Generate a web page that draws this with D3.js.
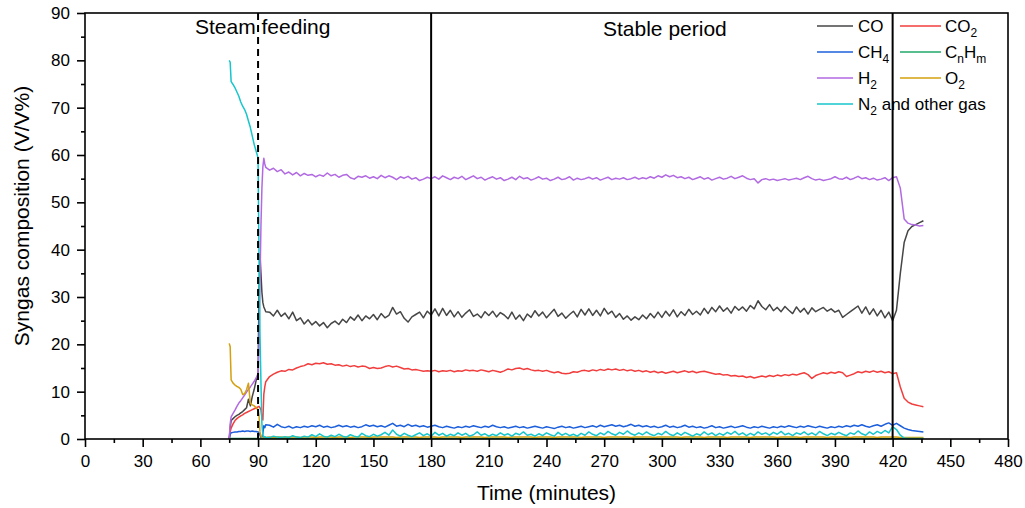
<!DOCTYPE html>
<html><head><meta charset="utf-8">
<script src="https://cdn.jsdelivr.net/npm/d3@7"></script>
<style>body{margin:0;background:#fff} svg{display:block} text{font-family:"Liberation Sans",Arial,sans-serif;fill:#000}</style>
</head><body><svg id="chart" width="1025" height="508"></svg>
<script>
// time (minutes)
const times = [75,75.5,76,77,78,79,80,81,82,83,84,85,86,87,88,89,90,90.5,91,91.5,92,92.5,93,93.5,94,
96,98,100,102,104,106,108,110,112,114,
116,118,120,122,124,126,128,130,132,134,
136,138,140,142,144,146,148,150,152,154,
156,158,160,162,164,166,168,170,172,174,
176,178,180,182,184,186,188,190,192,194,
196,198,200,202,204,206,208,210,212,214,
216,218,220,222,224,226,228,230,232,234,
236,238,240,242,244,246,248,250,252,254,
256,258,260,262,264,266,268,270,272,274,
276,278,280,282,284,286,288,290,292,294,
296,298,300,302,304,306,308,310,312,314,
316,318,320,322,324,326,328,330,332,334,
336,338,340,342,344,346,348,350,352,354,
356,358,360,362,364,366,368,370,372,374,
376,378,380,382,384,386,388,390,392,394,
396,398,400,402,404,406,408,410,412,414,
416,418,420,422,424,426,428,430,432,434,
436];

const coVals = [0,2.4,3.9,4.3,4.7,5.0,5.2,5.5,5.8,6.2,6.6,8.4,7.0,9.0,10.5,12.4,13.6,31,39,35,31,28.8,27.9,27.4,26.9,
26.8,26.0,27.2,25.9,26.6,25.4,26.8,25.0,25.6,24.3,
25.2,24.1,24.8,23.9,24.6,23.5,24.4,24.9,24.2,25.3,
24.6,25.8,25.1,26.2,25.0,26.0,25.4,26.3,25.2,26.5,
25.6,26.1,27.8,26.4,26.9,25.5,24.7,25.8,26.3,26.8,
25.6,27.0,26.2,27.5,26.0,27.6,26.1,27.2,25.8,26.9,
25.7,26.6,27.3,25.9,26.4,25.6,26.9,26.1,27.0,25.8,
26.7,26.2,25.4,26.8,25.3,26.2,25.0,26.4,25.7,27.1,
26.0,26.8,25.6,26.5,27.4,25.9,26.6,25.5,26.3,27.0,
25.8,27.4,26.2,27.5,26.1,27.2,26.0,27.6,26.4,27.0,
25.7,26.5,25.3,26.0,25.1,25.8,25.2,26.2,25.4,26.5,
25.6,26.8,25.7,27.0,26.0,27.3,25.8,26.9,26.1,27.4,
26.3,27.0,26.2,27.6,26.5,27.8,26.9,28.1,27.0,27.7,
26.6,28.0,27.2,27.9,27.0,28.2,27.5,29.2,28.0,27.3,
28.4,27.1,27.8,26.9,28.0,27.2,26.5,27.9,26.8,27.6,
26.4,27.7,26.9,27.4,27.8,27.0,27.5,26.8,27.2,25.7,
26.3,26.9,27.5,28.1,26.6,27.9,26.3,27.5,26.0,27.2,
25.6,26.8,25.0,27.2,35.0,41.5,44.0,44.9,45.3,45.7,
46.1];

const co2Vals = [0,1.5,2.3,3.2,3.9,4.3,4.6,4.9,5.1,5.4,5.6,5.8,6.0,6.2,6.4,6.6,6.8,6.9,6.6,6.2,4.5,4.0,9.5,11.0,12.1,
13.2,13.7,14.1,14.4,14.3,14.7,14.6,15.0,15.3,15.5,
15.9,15.7,16.0,15.9,16.1,15.8,15.9,15.6,15.7,15.4,
15.6,15.3,15.5,15.2,15.4,15.3,14.9,15.1,14.9,15.0,
15.3,15.5,15.2,15.4,15.1,14.8,14.9,14.6,14.7,14.5,
14.3,14.4,14.3,14.5,14.2,14.4,14.3,14.5,14.2,14.4,
14.3,14.6,14.4,14.5,14.3,14.6,14.4,14.2,14.5,14.3,
14.1,14.4,14.8,14.6,14.9,15.0,14.7,14.9,14.6,14.4,
14.5,14.3,14.5,14.2,14.0,14.2,13.9,13.8,13.9,14.2,
14.1,14.4,14.5,14.3,14.6,14.4,14.7,14.5,14.8,14.6,
14.8,14.5,14.7,14.4,14.6,14.3,14.5,14.2,14.4,14.1,
14.3,14.0,14.2,13.9,14.1,14.3,14.0,14.2,14.4,14.1,
14.3,14.0,14.2,14.3,14.1,13.9,13.7,13.8,13.5,13.6,
13.3,13.4,13.2,13.3,13.0,13.2,12.9,13.1,13.3,13.1,
13.4,13.2,13.5,13.3,13.6,13.4,13.7,13.5,13.8,14.0,
13.6,12.8,13.4,13.7,14.0,13.8,14.1,13.9,14.2,14.0,
13.2,13.5,13.8,14.2,14.0,14.3,14.1,14.4,14.1,14.3,
14.0,14.2,13.8,14.0,11.0,8.6,7.8,7.4,7.2,7.0,
6.8];

const ch4Vals = [0,1.0,1.3,1.4,1.5,1.5,1.6,1.6,1.7,1.6,1.7,1.7,1.6,1.7,1.6,1.6,1.5,1.3,0.8,0.3,0.2,1.2,2.8,2.4,3.0,
2.9,2.5,3.1,2.6,2.4,2.7,2.3,2.6,2.4,2.7,
2.5,2.8,2.6,2.9,2.5,2.7,2.4,2.6,2.9,2.6,
2.8,2.5,2.7,2.4,2.6,3.0,2.7,2.9,2.6,2.8,
2.5,2.9,3.3,2.7,2.9,2.6,3.1,2.7,2.9,2.6,
2.8,2.5,2.7,2.9,2.6,2.4,2.7,2.5,2.3,2.6,
2.4,2.7,2.5,2.8,2.6,2.4,2.7,2.5,2.9,2.6,
2.4,2.6,2.3,2.5,2.7,2.4,2.6,2.3,2.5,2.7,
2.5,2.3,2.6,2.4,2.2,2.5,2.7,2.4,2.6,2.3,
2.5,2.7,2.4,2.6,2.8,2.5,2.9,2.6,2.8,3.0,
2.7,2.9,2.6,2.8,3.1,2.7,2.9,2.6,2.8,2.5,
2.7,2.4,2.6,2.9,2.5,2.7,2.4,2.6,2.9,2.5,
2.7,2.4,2.6,2.3,2.5,2.8,2.4,2.6,2.3,2.5,
2.7,2.4,2.6,2.8,2.5,2.3,2.6,2.4,2.7,2.5,
2.3,2.6,2.4,2.7,2.5,2.8,2.6,2.4,2.7,2.5,
2.8,2.6,2.4,2.7,2.5,2.3,2.6,2.4,2.7,2.5,
2.8,2.6,2.9,2.7,3.0,2.7,2.5,2.8,3.0,2.7,
3.1,3.4,2.9,3.3,2.8,2.3,2.0,1.8,1.7,1.6,
1.5];

const cnhmVals = [0.1,0.1,0.1,0.1,0.1,0.1,0.1,0.1,0.1,0.1,0.1,0.1,0.1,0.1,0.1,0.1,0.1,0.1,0.1,0.1,0.1,0.1,0.1,0.1,0.1,
0.1,0.1,0.1,0.1,0.1,0.1,0.1,0.1,0.1,0.1,
0.1,0.1,0.1,0.1,0.1,0.1,0.1,0.1,0.1,0.1,
0.1,0.1,0.1,0.1,0.1,0.1,0.1,0.1,0.1,0.1,
0.1,0.1,0.1,0.1,0.1,0.1,0.1,0.1,0.1,0.1,
0.1,0.1,0.1,0.1,0.1,0.1,0.1,0.1,0.1,0.1,
0.1,0.1,0.1,0.1,0.1,0.1,0.1,0.1,0.1,0.1,
0.1,0.1,0.1,0.1,0.1,0.1,0.1,0.1,0.1,0.1,
0.1,0.1,0.1,0.1,0.1,0.1,0.1,0.1,0.1,0.1,
0.1,0.1,0.1,0.1,0.1,0.1,0.1,0.1,0.1,0.1,
0.1,0.1,0.1,0.1,0.1,0.1,0.1,0.1,0.1,0.1,
0.1,0.1,0.1,0.1,0.1,0.1,0.1,0.1,0.1,0.1,
0.1,0.1,0.1,0.1,0.1,0.1,0.1,0.1,0.1,0.1,
0.1,0.1,0.1,0.1,0.1,0.1,0.1,0.1,0.1,0.1,
0.1,0.1,0.1,0.1,0.1,0.1,0.1,0.1,0.1,0.1,
0.1,0.1,0.1,0.1,0.1,0.1,0.1,0.1,0.1,0.1,
0.1,0.1,0.1,0.1,0.1,0.1,0.1,0.1,0.1,0.1,
0.1,0.1,0.1,0.1,0.1,0.1,0.1,0.1,0.1,0.1,
0.1];

const h2Vals = [0,3.2,4.7,5.4,6.1,6.9,7.6,8.1,8.7,9.3,9.9,10.5,11.0,11.6,12.2,12.9,13.8,20,33,45,53,57.5,59.3,58.1,57.4,
56.8,57.2,56.5,56.9,56.0,56.4,55.8,56.3,55.6,56.1,
55.7,55.9,55.4,55.8,55.5,56.2,55.6,55.9,55.3,55.7,
55.9,55.2,54.9,55.5,55.3,55.6,55.1,55.4,55.0,55.7,
55.2,55.6,55.3,54.8,55.4,55.1,55.5,54.9,55.2,54.6,
54.9,55.3,55.0,55.4,54.9,55.6,55.2,54.8,55.3,55.0,
55.5,54.8,55.2,55.6,55.0,55.3,54.7,55.1,55.4,54.9,
55.2,54.6,54.9,55.3,54.8,55.5,55.0,55.2,54.7,55.0,
55.4,54.9,55.1,54.6,54.9,55.3,54.8,55.0,55.4,54.7,
55.1,54.8,55.0,55.3,54.9,55.2,54.7,55.0,55.3,54.8,
55.1,54.9,55.2,54.8,55.0,55.3,54.9,55.2,55.0,55.4,
55.1,55.6,55.3,55.8,55.4,55.7,55.2,55.4,55.0,55.3,
54.8,55.1,55.4,54.9,55.2,54.7,55.0,55.3,54.9,55.1,
55.5,55.0,55.3,55.6,55.1,54.8,55.0,54.1,54.8,55.0,
54.7,54.9,54.6,54.8,55.0,54.7,54.9,55.1,54.8,55.2,
55.5,55.0,54.7,54.9,54.6,54.8,55.0,55.4,55.0,54.9,
55.3,54.8,55.1,55.5,55.0,55.2,54.8,55.1,54.7,54.9,
55.2,54.6,55.2,55.4,53.0,46.5,45.6,45.3,45.2,45.0,
45.1];

const o2Vals = [20.2,19.5,12.5,11.8,11.4,11.1,10.9,10.5,9.4,9.6,10.4,11.8,7.5,7.2,7.0,6.6,6.1,5.0,1.5,0.6,0.4,0.3,0.3,0.4,0.3,
0.4,0.3,0.4,0.4,0.3,0.4,0.4,0.4,0.3,0.4,
0.4,0.4,0.3,0.4,0.4,0.4,0.4,0.3,0.4,0.4,
0.4,0.3,0.4,0.4,0.4,0.4,0.3,0.4,0.4,0.4,
0.4,0.4,0.4,0.3,0.4,0.4,0.4,0.4,0.4,0.3,
0.4,0.4,0.4,0.4,0.3,0.4,0.4,0.4,0.4,0.4,
0.3,0.4,0.4,0.4,0.4,0.4,0.3,0.4,0.4,0.4,
0.4,0.4,0.3,0.4,0.4,0.4,0.4,0.4,0.4,0.3,
0.4,0.4,0.4,0.4,0.3,0.4,0.4,0.4,0.4,0.4,
0.4,0.3,0.4,0.4,0.4,0.4,0.4,0.3,0.4,0.4,
0.4,0.4,0.4,0.4,0.3,0.4,0.4,0.4,0.4,0.4,
0.3,0.4,0.4,0.4,0.4,0.4,0.4,0.3,0.4,0.4,
0.4,0.4,0.4,0.3,0.4,0.4,0.4,0.4,0.4,0.3,
0.4,0.4,0.4,0.4,0.4,0.3,0.4,0.4,0.4,0.4,
0.4,0.4,0.3,0.4,0.4,0.4,0.4,0.4,0.3,0.4,
0.4,0.4,0.4,0.4,0.4,0.3,0.4,0.4,0.4,0.4,
0.4,0.3,0.4,0.4,0.4,0.4,0.4,0.4,0.3,0.4,
0.4,0.4,0.4,0.4,0.3,0.3,0.3,0.3,0.3,0.3,
0.3];

const n2Vals = [80,79.6,75.5,74.9,74.2,73.3,72.4,71.2,70.3,69.6,68.6,67.2,65.8,64.0,62.2,60.8,59.4,38,22,12,3.2,0.8,0.4,0.5,0.3,
0.3,0.6,0.4,0.3,0.5,0.3,0.7,0.4,0.3,0.6,
0.4,0.9,0.5,1.1,0.6,0.4,0.8,0.5,1.0,0.6,
0.4,0.9,0.6,0.4,1.2,0.7,0.5,1.0,0.6,0.9,
1.4,0.8,1.9,1.0,0.6,1.2,0.8,0.5,0.9,1.3,
0.7,1.1,0.6,1.4,0.8,1.2,0.6,1.0,0.7,1.3,
0.8,1.2,0.6,0.9,1.5,0.8,1.1,0.6,1.0,0.7,
1.3,0.8,1.1,0.6,1.2,0.9,1.5,0.8,1.0,0.6,
1.1,0.7,1.3,0.9,0.6,1.4,0.8,1.2,0.7,1.0,
0.6,1.2,0.8,1.5,1.0,0.7,1.3,0.9,1.6,1.1,
0.8,1.4,1.0,1.7,1.1,0.8,1.3,0.9,1.5,1.0,
0.7,1.2,0.9,1.6,1.0,0.7,1.3,0.8,1.4,1.0,
0.6,1.1,0.8,1.5,0.9,1.3,0.7,1.2,0.8,1.4,
1.0,1.6,0.9,1.3,0.7,1.2,0.8,1.5,1.0,1.3,
0.8,1.4,1.0,1.6,0.9,1.2,0.7,1.3,1.0,1.5,
0.9,1.3,0.8,1.6,1.1,0.7,1.2,0.9,1.4,1.0,
0.7,1.3,1.0,1.7,1.1,0.8,1.5,1.0,1.6,1.2,
1.8,1.3,2.6,2.0,0.8,0.2,0.1,0.1,0.1,0.1,
0.1];

const xTicks = [0,30,60,90,120,150,180,210,240,270,300,330,360,390,420,450,480];
const yTicks = [0,10,20,30,40,50,60,70,80,90];
const markerTimes = [180, 420];       // solid vertical lines
const steamTime = 90;                 // dashed vertical line

const series = [
  {name:"CO", sub:null, vals:coVals, color:"#464646"},
  {name:"CO2", vals:co2Vals, color:"#f23d3d"},
  {name:"CH4", vals:ch4Vals, color:"#1c5fdc"},
  {name:"CnHm", vals:cnhmVals, color:"#20a86a"},
  {name:"H2", vals:h2Vals, color:"#b26ae2"},
  {name:"O2", vals:o2Vals, color:"#d4a00e"},
  {name:"N2", vals:n2Vals, color:"#16c6cc"}
];

const svg = d3.select("#chart");
const L = 85, R = 1008, T = 13, B = 439;
const x = d3.scaleLinear().domain([0,480]).range([L,R]);
const y = d3.scaleLinear().domain([0,90]).range([B,T]);

// data lines
const line = d3.line().x((d,i)=>x(times[i])).y(d=>y(d));
const gLines = svg.append("g");
series.forEach(s=>{
  const n = Math.min(s.vals.length, times.length);
  gLines.append("path").datum(s.vals.slice(0,n))
    .attr("d", line).attr("fill","none").attr("stroke", s.color)
    .attr("stroke-width",1.5).attr("stroke-linejoin","round");
});

// vertical lines
svg.append("line").attr("x1",x(steamTime)).attr("x2",x(steamTime)).attr("y1",T).attr("y2",B)
  .attr("stroke","#000").attr("stroke-width",2).attr("stroke-dasharray","7,5");
markerTimes.forEach(t=>{
  svg.append("line").attr("x1",x(t)).attr("x2",x(t)).attr("y1",T).attr("y2",B)
    .attr("stroke","#000").attr("stroke-width",2);
});

// frame
svg.append("rect").attr("x",L).attr("y",T).attr("width",R-L).attr("height",B-T)
  .attr("fill","none").attr("stroke","#000").attr("stroke-width",1.6);

// axes
const fs = "17px";
const xAxis = svg.append("g").attr("transform",`translate(0,${B})`)
  .call(d3.axisBottom(x).tickValues(xTicks).tickSize(8).tickPadding(8).tickSizeOuter(0));
const xMinor = svg.append("g").attr("transform",`translate(0,${B})`)
  .call(d3.axisBottom(x).tickValues(xTicks.slice(0,-1).map(v=>v+15)).tickSize(4).tickFormat(""));
const yAxis = svg.append("g").attr("transform",`translate(${L},0)`)
  .call(d3.axisLeft(y).tickValues(yTicks).tickSize(8).tickPadding(7).tickSizeOuter(0));
const yMinor = svg.append("g").attr("transform",`translate(${L},0)`)
  .call(d3.axisLeft(y).tickValues(yTicks.slice(0,-1).map(v=>v+5)).tickSize(4).tickFormat(""));
[xAxis,xMinor,yAxis,yMinor].forEach(g=>{
  g.select(".domain").remove();
  g.selectAll(".tick line").attr("stroke","#000").attr("stroke-width",1.6);
  g.selectAll(".tick text").attr("font-size",fs).attr("font-family","Liberation Sans, Arial, sans-serif").attr("fill","#000");
});

// axis titles
svg.append("text").attr("x",(L+R)/2).attr("y",500).attr("text-anchor","middle")
  .attr("font-size","21px").text("Time (minutes)");
svg.append("text").attr("transform","translate(29,216) rotate(-90)").attr("text-anchor","middle")
  .attr("font-size","21px").text("Syngas composition (V/V%)");

// annotations
svg.append("text").attr("x",195).attr("y",34).attr("font-size","21px").text("Steam feeding");
svg.append("text").attr("x",603).attr("y",36).attr("font-size","21px").text("Stable period");

// legend
const legendItems = [
  {s:series[0], parts:[["CO",0]], col:0, row:0},
  {s:series[1], parts:[["CO",0],["2",1]], col:1, row:0},
  {s:series[2], parts:[["CH",0],["4",1]], col:0, row:1},
  {s:series[3], parts:[["C",0],["n",1],["H",0],["m",1]], col:1, row:1},
  {s:series[4], parts:[["H",0],["2",1]], col:0, row:2},
  {s:series[5], parts:[["O",0],["2",1]], col:1, row:2},
  {s:series[6], parts:[["N",0],["2",1],[" and other gas",0]], col:0, row:3}
];
const colLine = [[817,853],[900,941]];
const colText = [858, 945];
const rowY = [26,52,78,104];
legendItems.forEach(it=>{
  const yy = rowY[it.row];
  svg.append("line").attr("x1",colLine[it.col][0]).attr("x2",colLine[it.col][1])
    .attr("y1",yy).attr("y2",yy).attr("stroke",it.s.color).attr("stroke-width",1.6);
  const t = svg.append("text").attr("x",colText[it.col]).attr("y",yy+6).attr("font-size","17px");
  it.parts.forEach(p=>{
    if(p[1]) t.append("tspan").attr("font-size","12px").attr("dy",5).text(p[0]);
    else t.append("tspan").attr("dy", 0).attr("y", yy+6).text(p[0]);
  });
});
</script></body></html>
